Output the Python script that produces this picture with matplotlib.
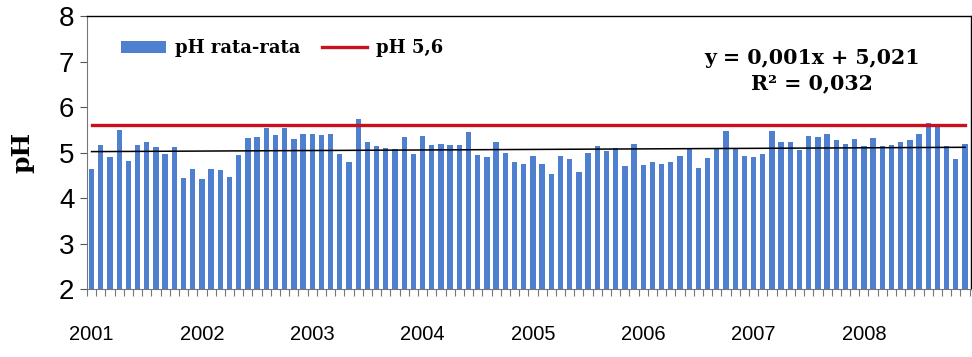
import numpy as np
import matplotlib as mpl
mpl.use('Agg')
import matplotlib.pyplot as plt

# monthly average pH, Jan 2001 .. Dec 2008
years = ['2001', '2002', '2003', '2004', '2005', '2006', '2007', '2008']
ph_mean = [4.65, 5.17, 4.90, 5.50, 4.82, 5.16, 5.23, 5.12, 4.96, 5.12, 4.45, 4.63,   # 2001
           4.43, 4.65, 4.61, 4.47, 4.94, 5.32, 5.34, 5.54, 5.38, 5.54, 5.31, 5.42,   # 2002
           5.41, 5.38, 5.40, 4.97, 4.80, 5.74, 5.23, 5.15, 5.11, 5.08, 5.34, 4.97,   # 2003
           5.37, 5.16, 5.20, 5.16, 5.16, 5.46, 4.94, 4.90, 5.24, 5.00, 4.79, 4.75,   # 2004
           4.93, 4.75, 4.54, 4.93, 4.86, 4.58, 5.00, 5.15, 5.04, 5.10, 4.71, 5.19,   # 2005
           4.72, 4.79, 4.74, 4.79, 4.92, 5.10, 4.66, 4.88, 5.10, 5.47, 5.09, 4.93,   # 2006
           4.90, 4.96, 5.48, 5.24, 5.23, 5.05, 5.37, 5.34, 5.42, 5.27, 5.18, 5.30,   # 2007
           5.14, 5.33, 5.14, 5.16, 5.24, 5.27, 5.41, 5.65, 5.61, 5.15, 4.87, 5.18]   # 2008
ph_limit = 5.6
slope, intercept = 0.001, 5.021

n = len(ph_mean)
x = np.arange(n)

fig = plt.figure(figsize=(9.72, 3.57), dpi=100)
ax = fig.add_axes([0.0895, 0.19, 0.909, 0.765])

bars = ax.bar(x, np.array(ph_mean) - 2, bottom=2, width=0.58, color='#4f7fcf', zorder=2)
line, = ax.plot(x, [ph_limit] * n, color='#c8101e', lw=2.4, zorder=3)
ax.plot(x, slope * (x + 1) + intercept, color='black', lw=1.1, zorder=3)

ax.set_xlim(-0.35, n - 0.4)
ax.set_ylim(2, 8)
ax.set_yticks(range(2, 9))
ax.set_yticklabels([str(v) for v in range(2, 9)], family='Liberation Sans', fontsize=20)
ax.tick_params(axis='y', direction='out', length=5, width=0.8, color='#555555', pad=4)

ax.set_xticks(x[::12])
ax.set_xticklabels(years, family='Liberation Sans', fontsize=14.5)
ax.set_xticks(np.arange(n + 1) - 0.5, minor=True)
ax.tick_params(axis='x', which='major', length=0, pad=26)
ax.tick_params(axis='x', which='minor', direction='out', length=5, width=0.8, color='#777777')

for s in ['top', 'right']:
    ax.spines[s].set_color('black')
    ax.spines[s].set_linewidth(1.0)
ax.spines['left'].set_color('#777777')
ax.spines['bottom'].set_color('#777777')

ax.set_ylabel('pH', family='DejaVu Serif', fontweight='bold', fontsize=18, labelpad=18)

ax.legend([bars, line], ['pH rata-rata', 'pH 5,6'], loc='upper left', ncol=2,
          frameon=False, bbox_to_anchor=(0.02, 0.975),
          prop={'family': 'DejaVu Serif', 'weight': 'bold', 'size': 13},
          handlelength=2.5, handleheight=0.6, columnspacing=1.2, handletextpad=0.5)

ax.text(0.82, 0.80, 'y = 0,001x + 5,021\nR² = 0,032', transform=ax.transAxes,
        ha='center', va='center', family='DejaVu Serif', fontweight='bold',
        fontsize=14.8, linespacing=1.35)

plt.savefig('out.png', dpi=100)
plt.close()
